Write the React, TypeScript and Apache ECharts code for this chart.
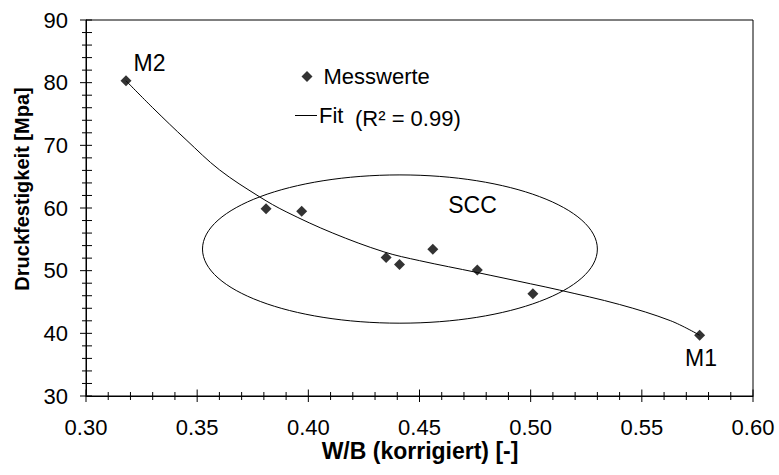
import React, { useEffect, useRef } from "react";
import * as echarts from "echarts";

// Measured values (W/B corrected vs. compressive strength)
const wbValues = [0.318, 0.381, 0.397, 0.435, 0.441, 0.456, 0.476, 0.501, 0.576];
const strengthValues = [80.3, 59.9, 59.5, 52.1, 51.0, 53.4, 50.1, 46.3, 39.7];

// Fit curve
const fitWB = [0.318, 0.330, 0.345, 0.360, 0.378, 0.390, 0.411, 0.434, 0.450, 0.476, 0.500, 0.513, 0.540, 0.563, 0.576];
const fitStrength = [80.3, 76.0, 70.9, 66.1, 61.8, 59.4, 56.0, 53.0, 51.6, 49.7, 47.9, 46.9, 44.6, 42.0, 39.7];

// SCC region (ellipse) in data units
const sccCenter = [0.4412, 53.45];
const sccRadii = [0.0888, 11.83];

// Axis ranges / ticks
const xRange = [0.3, 0.6];
const xStep = 0.05;
const yRange = [30, 90];
const yStep = 10;
const xMajorTicks = [0.30, 0.35, 0.40, 0.45, 0.50, 0.55, 0.60];
const xMinorTicks = [
  0.31, 0.32, 0.33, 0.34, 0.36, 0.37, 0.38, 0.39, 0.41, 0.42, 0.43, 0.44,
  0.46, 0.47, 0.48, 0.49, 0.51, 0.52, 0.53, 0.54, 0.56, 0.57, 0.58, 0.59,
];
const yMajorTicks = [30, 40, 50, 60, 70, 80, 90];
const yMinorTicks = [
  32, 34, 36, 38, 42, 44, 46, 48, 52, 54, 56, 58,
  62, 64, 66, 68, 72, 74, 76, 78, 82, 84, 86, 88,
];

const FONT = "'Liberation Sans', Arial, Helvetica, sans-serif";
const black = "#000";

function axisBase(dim: "x" | "y", position: string) {
  return {
    type: "value",
    min: dim === "x" ? xRange[0] : yRange[0],
    max: dim === "x" ? xRange[1] : yRange[1],
    interval: dim === "x" ? xStep : yStep,
    position,
    splitLine: { show: false },
    axisTick: { show: false },
    minorTick: { show: false },
  };
}

// Tick marks crossing the axis line, placed through the axis scale
function tickSeries(values: number[], dim: "x" | "y", inside: number, outside: number) {
  return {
    type: "custom",
    silent: true,
    clip: false,
    z: 5,
    data: values.map((v) => (dim === "x" ? [v, yRange[0]] : [xRange[0], v])),
    renderItem: (_params: any, api: any) => {
      const p = api.coord([api.value(0), api.value(1)]);
      const shape =
        dim === "x"
          ? { x1: p[0], y1: p[1] - inside, x2: p[0], y2: p[1] + outside }
          : { x1: p[0] - outside, y1: p[1], x2: p[0] + inside, y2: p[1] };
      return { type: "line", shape, style: { stroke: black, lineWidth: 1 } };
    },
  };
}

export default function App() {
  const ref = useRef<HTMLDivElement>(null);

  useEffect(() => {
    document.body.style.margin = "0";
    if (!ref.current) return;
    const chart = echarts.init(ref.current, undefined, { renderer: "svg" });

    const option: any = {
      animation: false,
      grid: {
        left: 86,
        right: 26,
        top: 20,
        bottom: 79,
        show: true,
        borderColor: black,
        borderWidth: 1,
      },
      xAxis: {
        ...axisBase("x", "bottom"),
        axisLine: { show: true, onZero: false, lineStyle: { color: black } },
        axisLabel: {
          margin: 20,
          fontSize: 22,
          color: black,
          fontFamily: FONT,
          formatter: (v: number) => v.toFixed(2),
        },
      },
      yAxis: {
        ...axisBase("y", "left"),
        axisLine: { show: true, onZero: false, lineStyle: { color: black } },
        axisLabel: { margin: 18, fontSize: 22, color: black, fontFamily: FONT },
      },
      legend: [
        {
          data: [{ name: "Messwerte", icon: "diamond" }],
          left: 301.5,
          top: 65.5,
          padding: 0,
          itemWidth: 11,
          itemHeight: 11,
          selectedMode: false,
          textStyle: { fontSize: 22, color: black, fontFamily: FONT, padding: [0, 0, 0, 6] },
        },
        {
          data: [{ name: "Fit", icon: "rect" }],
          left: 295,
          top: 104.5,
          padding: 0,
          itemWidth: 22,
          itemHeight: 1,
          selectedMode: false,
          textStyle: { fontSize: 22, color: black, fontFamily: FONT, padding: [0, 0, 0, -3] },
        },
      ],
      graphic: [
        {
          type: "text",
          x: 355,
          y: 118.5,
          style: { text: "(R² = 0.99)", font: `22px ${FONT}`, fill: black, align: "left", verticalAlign: "middle" },
        },
        {
          type: "text",
          x: 149.5,
          y: 63,
          style: { text: "M2", font: `23px ${FONT}`, fill: black, align: "center", verticalAlign: "middle" },
        },
        {
          type: "text",
          x: 701,
          y: 358,
          style: { text: "M1", font: `23px ${FONT}`, fill: black, align: "center", verticalAlign: "middle" },
        },
        {
          type: "text",
          x: 472.5,
          y: 205,
          style: { text: "SCC", font: `23px ${FONT}`, fill: black, align: "center", verticalAlign: "middle" },
        },
        {
          type: "text",
          x: 420,
          y: 451,
          style: { text: "W/B (korrigiert) [-]", font: `bold 23px ${FONT}`, fill: black, align: "center", verticalAlign: "middle" },
        },
        {
          type: "text",
          x: 22,
          y: 189,
          rotation: Math.PI / 2,
          style: { text: "Druckfestigkeit [Mpa]", font: `bold 20px ${FONT}`, fill: black, align: "center", verticalAlign: "middle" },
        },
      ],
      series: [
        {
          type: "custom",
          data: [[sccCenter[0], sccCenter[1]]],
          renderItem: (_params: any, api: any) => {
            const c = api.coord([api.value(0), api.value(1)]);
            const s = api.size([sccRadii[0], sccRadii[1]]);
            return {
              type: "ellipse",
              shape: { cx: c[0], cy: c[1], rx: s[0], ry: s[1] },
              style: { fill: "none", stroke: black, lineWidth: 1 },
            };
          },
        },
        tickSeries(xMajorTicks, "x", 6.5, 6),
        tickSeries(xMinorTicks, "x", 4, 4),
        tickSeries(yMajorTicks, "y", 6, 6),
        tickSeries(yMinorTicks, "y", 6, 4),
        {
          type: "line",
          name: "Fit",
          data: fitWB.map((x, i) => [x, fitStrength[i]]),
          smooth: 0.35,
          symbol: "none",
          itemStyle: { color: black },
          lineStyle: { color: black, width: 1 },
        },
        {
          type: "scatter",
          name: "Messwerte",
          data: wbValues.map((x, i) => [x, strengthValues[i]]),
          symbol: "diamond",
          symbolSize: 11,
          itemStyle: { color: black },
        },
      ],
    };

    chart.setOption(option);
    return () => chart.dispose();
  }, []);

  return (
    <div
      ref={ref}
      style={{ position: "fixed", left: 0, top: 0, width: 779, height: 475, background: "#fff" }}
    />
  );
}
